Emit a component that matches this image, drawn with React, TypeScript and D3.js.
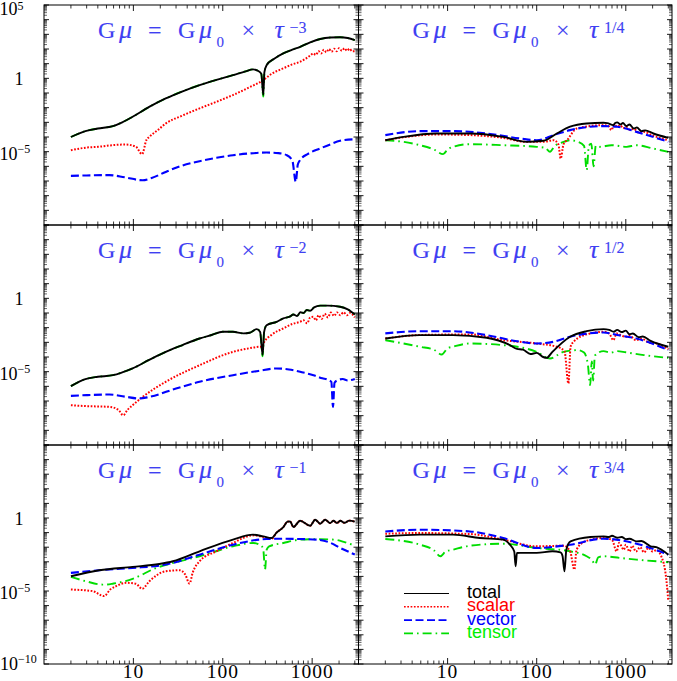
import React from 'react';
import * as d3 from 'd3';

type Pt = [number, number]; // [tau, log10 of power]

// ---------- data (x value, log10 of y value) ----------
const tlTotal: Pt[] = [[2,-4.0],[2.9,-3.6],[4,-3.42],[5.9,-3.26],[7.5,-3.0],[9.8,-2.62],[15,-1.95],[23,-1.37],[35,-0.9],[55,-0.46],[85,-0.1],[130,0.22],[180,0.48],[218,0.61],[250,0.5],[270,0.3],[284,-1.14],[292,0.4],[309,0.9],[380,1.35],[475,1.7],[600,1.95],[735,2.15],[950,2.45],[1230,2.68],[1600,2.78],[2050,2.8],[2500,2.75],[3000,2.6]];
const tlScalar: Pt[] = [[2,-4.9],[3,-4.72],[4,-4.67],[6,-4.55],[8.2,-4.51],[10.7,-4.67],[12.5,-5.17],[14,-4.2],[15.1,-3.99],[19,-3.5],[23,-3.08],[35,-2.55],[55,-2.05],[85,-1.6],[130,-1.14],[200,-0.6],[284,-0.12],[350,0.3],[475,0.68],[600,0.95],[733,1.13],[850,1.35],[950,1.55],[1030,1.7],[1100,1.6],[1180,1.85],[1260,1.7],[1350,1.95],[1440,1.78],[1540,2.0],[1650,1.82],[1760,2.02],[1880,1.85],[2000,2.05],[2150,1.88],[2300,2.05],[2450,1.88],[2620,2.02],[2800,1.85],[3000,1.85]];
const tlVector: Pt[] = [[2,-6.65],[3,-6.62],[5.4,-6.6],[8,-6.75],[12.7,-6.95],[16,-6.8],[23,-6.38],[35,-5.95],[55,-5.65],[85,-5.42],[130,-5.24],[200,-5.12],[309,-5.06],[420,-5.1],[520,-5.24],[600,-5.6],[656,-7.06],[690,-5.9],[733,-5.58],[900,-5.15],[1230,-4.78],[1600,-4.5],[2050,-4.26],[3000,-4.15]];
const tlTensor: Pt[] = [[2,-4.0],[2.9,-3.6],[4,-3.42],[5.9,-3.26],[7.5,-3.0],[9.8,-2.62],[15,-1.95],[23,-1.37],[35,-0.9],[55,-0.46],[85,-0.1],[130,0.22],[180,0.48],[218,0.61],[250,0.5],[270,0.3],[284,-1.25],[292,0.4],[309,0.9],[380,1.35],[475,1.7],[600,1.95],[735,2.15],[950,2.45],[1230,2.68],[1600,2.78],[2050,2.8],[2500,2.75],[3000,2.6]];

const mlTotal: Pt[] = [[2,-5.99],[2.9,-5.51],[4,-5.35],[5.9,-5.24],[7.5,-5.05],[9.8,-4.78],[15,-4.2],[23,-3.65],[35,-3.2],[55,-2.74],[75,-2.5],[100,-2.28],[130,-2.28],[170,-2.39],[200,-2.35],[240,-2.1],[262,-2.3],[279,-3.87],[290,-2.3],[309,-1.83],[400,-1.6],[476,-1.37],[560,-1.25],[617,-1.1],[680,-1.2],[740,-0.95],[800,-1.0],[871,-0.8],[950,-0.85],[1050,-0.62],[1230,-0.5],[1500,-0.5],[2050,-0.57],[2500,-0.75],[3000,-1.1]];
const mlScalar: Pt[] = [[2,-7.29],[3,-7.35],[5.4,-7.4],[6.8,-7.6],[7.7,-7.97],[8.6,-7.6],[9.8,-7.29],[12.7,-6.72],[23,-5.69],[55,-4.56],[130,-3.65],[200,-3.4],[262,-3.3],[279,-3.3],[285,-3.08],[350,-2.5],[476,-2.05],[600,-1.75],[733,-1.6],[800,-1.5],[880,-1.7],[950,-1.3],[1030,-1.26],[1100,-1.5],[1180,-1.15],[1280,-1.4],[1380,-1.05],[1500,-1.3],[1620,-0.96],[1760,-1.2],[1900,-0.96],[2060,-1.15],[2250,-0.95],[2450,-1.15],[2650,-1.0],[3000,-1.3]];
const mlVector: Pt[] = [[2,-6.65],[3,-6.6],[5.4,-6.56],[8,-6.7],[11.7,-6.83],[15.1,-6.72],[30,-6.15],[55,-5.69],[130,-5.24],[250,-4.95],[400,-4.78],[550,-4.85],[733,-5.01],[1036,-5.24],[1300,-5.45],[1500,-5.55],[1640,-5.7],[1710,-7.4],[1780,-5.75],[1900,-5.6],[2200,-5.5],[2500,-5.6],[3000,-5.5]];
const mlTensor: Pt[] = [[2,-5.99],[2.9,-5.51],[4,-5.35],[5.9,-5.24],[7.5,-5.05],[9.8,-4.78],[15,-4.2],[23,-3.65],[35,-3.2],[55,-2.74],[75,-2.5],[100,-2.28],[130,-2.28],[170,-2.39],[200,-2.35],[240,-2.1],[262,-2.3],[279,-3.95],[290,-2.3],[309,-1.83],[400,-1.6],[476,-1.37],[560,-1.25],[617,-1.1],[680,-1.2],[740,-0.95],[800,-1.0],[871,-0.8],[950,-0.85],[1050,-0.62],[1230,-0.5],[1500,-0.5],[2050,-0.57],[2500,-0.75],[3000,-1.1]];

const blTotal: Pt[] = [[2,-3.99],[4.15,-3.58],[9.8,-3.35],[19.5,-3.15],[27.7,-2.96],[55,-2.28],[130,-1.48],[218,-1.14],[284,-1.26],[352,-1.37],[400,-1.0],[476,-0.62],[530,-0.25],[566,-0.23],[617,-0.62],[733,-0.19],[950,-0.53],[1081,-0.12],[1230,-0.39],[1400,-0.12],[1586,-0.35],[1738,-0.19],[1893,-0.35],[2063,-0.19],[2300,-0.33],[2600,-0.18],[3000,-0.25]];
const blScalar: Pt[] = [[2,-4.9],[3.5,-5.01],[4.7,-5.35],[5.5,-4.9],[6.4,-4.67],[8.3,-4.44],[10.7,-4.51],[12.5,-4.85],[15.1,-4.33],[23,-3.65],[33,-3.58],[38,-3.87],[42.5,-4.49],[46,-3.76],[55,-2.96],[85,-2.28],[130,-1.71],[218,-1.19],[284,-1.3],[352,-1.42],[400,-1.0],[476,-0.62],[530,-0.25],[566,-0.23],[617,-0.62],[733,-0.19],[950,-0.53],[1081,-0.12],[1230,-0.39],[1400,-0.12],[1586,-0.35],[1738,-0.19],[1893,-0.35],[2063,-0.19],[2300,-0.33],[2600,-0.18],[3000,-0.25]];
const blVector: Pt[] = [[2,-3.76],[4.15,-3.58],[9.8,-3.42],[23,-3.19],[55,-2.51],[130,-1.83],[309,-1.44],[450,-1.42],[733,-1.44],[1120,-1.48],[1600,-1.7],[2063,-2.05],[3000,-2.5]];
const blTensor: Pt[] = [[2,-4.03],[2.94,-4.33],[4.5,-4.56],[5,-4.56],[6,-4.49],[9.8,-4.17],[18,-3.42],[27.7,-3.08],[55,-2.62],[130,-1.94],[218,-1.71],[270,-1.9],[284,-2.17],[297,-3.53],[310,-2.17],[330,-1.95],[476,-1.71],[733,-1.48],[1000,-1.45],[1738,-1.48],[2300,-1.65],[3000,-1.9]];

const trTotal: Pt[] = [[2,-4.22],[3.2,-3.99],[7.5,-3.76],[17.8,-3.76],[42,-3.99],[77,-4.33],[119,-4.26],[168,-3.76],[237,-3.3],[363,-3.08],[562,-3.03],[620,-3.05],[725,-3.19],[760,-3.05],[800,-3.0],[870,-3.15],[930,-3.05],[1010,-3.25],[1100,-3.15],[1230,-3.42],[1330,-3.35],[1500,-3.6],[1650,-3.55],[2040,-3.76],[3000,-4.06]];
const trScalar: Pt[] = [[2,-4.22],[7.5,-3.83],[17.8,-3.87],[42,-4.06],[77,-4.33],[119,-4.33],[155,-4.22],[175,-4.5],[186,-5.47],[200,-4.5],[219,-4.22],[282,-3.42],[562,-3.19],[640,-3.25],[690,-3.53],[740,-3.15],[800,-3.3],[870,-3.2],[930,-3.4],[1010,-3.3],[1100,-3.5],[1230,-3.45],[1400,-3.7],[1600,-3.65],[2000,-3.9],[3000,-4.22]];
const trVector: Pt[] = [[2,-3.87],[4.9,-3.6],[11.5,-3.6],[27.5,-3.76],[65,-4.1],[100,-4.22],[155,-3.87],[237,-3.53],[562,-3.26],[800,-3.3],[1318,-3.65],[3000,-4.33]];
const trTensor: Pt[] = [[2,-4.22],[3.2,-4.33],[4.9,-4.56],[7,-4.85],[8.9,-5.17],[10,-4.85],[11.5,-4.67],[17.8,-4.49],[42,-4.56],[100,-4.67],[125,-4.75],[141,-5.01],[160,-4.6],[182,-4.44],[237,-4.22],[290,-4.33],[340,-4.6],[364,-6.26],[385,-4.6],[410,-4.45],[435,-6.0],[460,-4.6],[513,-4.67],[690,-4.56],[1023,-4.67],[1318,-4.56],[2000,-4.78],[3000,-5.01]];

const mrTotal: Pt[] = [[2,-2.74],[4.9,-2.51],[11.5,-2.51],[27.5,-2.69],[50,-3.19],[60,-3.45],[70,-3.5],[85,-3.8],[100,-3.72],[118,-4.0],[129,-4.06],[150,-3.65],[237,-2.62],[363,-2.24],[562,-2.1],[650,-2.15],[733,-2.28],[800,-2.15],[900,-2.3],[1000,-2.2],[1100,-2.45],[1200,-2.4],[1400,-2.65],[1550,-2.6],[1900,-2.9],[3000,-3.3]];
const mrScalar: Pt[] = [[2,-2.74],[4.9,-2.5],[17.8,-2.46],[42,-2.85],[100,-3.08],[168,-3.3],[205,-3.6],[227,-5.8],[240,-3.3],[260,-2.96],[363,-2.46],[562,-2.28],[650,-2.4],[725,-2.85],[790,-2.39],[870,-2.5],[1000,-2.62],[1100,-2.55],[1300,-2.85],[1500,-2.75],[1800,-3.0],[2300,-3.1],[3000,-3.46]];
const mrVector: Pt[] = [[2,-2.39],[4.9,-2.24],[11.5,-2.24],[27.5,-2.51],[65,-2.96],[100,-3.08],[155,-2.96],[237,-2.62],[562,-2.33],[800,-2.5],[1318,-2.74],[3000,-3.53]];
const mrTensor: Pt[] = [[2,-2.85],[4.9,-3.3],[7,-3.5],[8.6,-3.83],[10,-3.4],[11.5,-3.3],[17.8,-3.08],[42,-3.19],[100,-3.65],[141,-4.1],[200,-3.65],[290,-3.53],[340,-3.7],[375,-4.5],[398,-5.92],[415,-4.3],[430,-5.6],[450,-3.9],[562,-3.6],[680,-3.7],[800,-3.6],[1000,-3.68],[1600,-3.87],[3000,-4.06]];

const brTotal: Pt[] = [[2,-1.26],[4.9,-1.14],[11.5,-1.14],[23,-1.37],[42,-1.48],[50,-1.83],[56,-2.3],[58,-3.3],[60,-2.4],[65,-2.39],[100,-2.39],[150,-2.28],[185,-2.35],[195,-2.6],[205,-3.65],[215,-2.17],[240,-1.6],[400,-1.3],[562,-1.26],[650,-1.3],[700,-1.22],[800,-1.35],[900,-1.3],[1000,-1.45],[1100,-1.42],[1318,-1.6],[1500,-1.58],[1900,-1.94],[2200,-2.0],[3000,-2.51]];
const brScalar: Pt[] = [[2,-1.08],[4.9,-1.03],[17.8,-1.1],[42,-1.48],[100,-1.94],[200,-1.9],[237,-2.28],[265,-3.53],[280,-2.17],[350,-1.6],[562,-1.37],[700,-1.5],[790,-2.28],[840,-1.71],[950,-2.17],[1000,-1.83],[1100,-2.3],[1180,-1.9],[1300,-2.3],[1450,-2.0],[1600,-2.35],[1800,-2.05],[2000,-2.3],[2200,-2.2],[2500,-2.62],[2850,-4.22],[3000,-5.69]];
const brVector: Pt[] = [[2,-0.92],[4.9,-0.8],[17.8,-0.92],[42,-1.37],[100,-2.05],[237,-1.83],[562,-1.42],[1318,-1.76],[3000,-2.51]];
const brTensor: Pt[] = [[2,-1.44],[4.9,-1.83],[7,-2.2],[8.3,-2.62],[9.5,-2.3],[11.5,-2.17],[17.8,-1.9],[42,-1.76],[100,-2.05],[237,-2.28],[363,-2.62],[420,-2.9],[452,-3.19],[490,-2.7],[562,-2.62],[870,-2.74],[1318,-2.85],[3000,-3.03]];

const titleExponents = ['\u22123', '1/4', '\u22122', '1/2', '\u22121', '3/4'];
const seriesNames = ['total', 'scalar', 'vector', 'tensor'];
const xTickLabels = [10, 100, 1000];

// ---------- layout & styles ----------
const W = 677, H = 681;
const COLS = [44, 358.5, 672];
const ROWS = [5, 225, 445, 664];
const COLORS: Record<string, string> = { total: '#000000', scalar: '#ff0000', vector: '#0000ff', tensor: '#00dd00' };
const DASH: Record<string, string | undefined> = { total: undefined, scalar: '1.7 1.6', vector: '8 3.5', tensor: '9 4 1.6 4' };
const WIDTH: Record<string, number> = { total: 1.9, scalar: 2, vector: 2.1, tensor: 1.9 };
const TITLE_COLOR = '#3f3ff2';
const SERIF = '"Liberation Serif", "Times New Roman", serif';
const SANS = '"Liberation Sans", Arial, sans-serif';

const panels = [
  { col: 0, row: 0, series: { total: tlTotal, scalar: tlScalar, vector: tlVector, tensor: tlTensor } },
  { col: 1, row: 0, series: { total: trTotal, scalar: trScalar, vector: trVector, tensor: trTensor } },
  { col: 0, row: 1, series: { total: mlTotal, scalar: mlScalar, vector: mlVector, tensor: mlTensor } },
  { col: 1, row: 1, series: { total: mrTotal, scalar: mrScalar, vector: mrVector, tensor: mrTensor } },
  { col: 0, row: 2, series: { total: blTotal, scalar: blScalar, vector: blVector, tensor: blTensor } },
  { col: 1, row: 2, series: { total: brTotal, scalar: brScalar, vector: brVector, tensor: brTensor } },
];

const drawOrder = ['tensor', 'scalar', 'vector', 'total'];

function Panel({ p, idx }: { p: typeof panels[number]; idx: number }) {
  const x0 = COLS[p.col], x1 = COLS[p.col + 1];
  const y0 = ROWS[p.row], y1 = ROWS[p.row + 1];
  const xs = d3.scaleLog().domain([1, 3300]).range([x0, x1]);
  const ys = d3.scaleLog().domain([1e-10, 1e5]).range([y1, y0]);
  const line = d3.line<Pt>()
    .x((d) => xs(d[0]))
    .y((d) => ys(Math.pow(10, d[1])))
    .curve(d3.curveMonotoneX);

  const xMajor = [10, 100, 1000];
  const xMinor: number[] = [];
  for (const dec of [1, 10, 100, 1000]) for (let k = 2; k <= 9; k++) { const v = k * dec; if (v < 3300) xMinor.push(v); }
  const yMajor: number[] = [];
  const yMinor: number[] = [];
  for (let e = -10; e <= 5; e++) {
    yMajor.push(Math.pow(10, e));
    if (e < 5) for (let k = 2; k <= 9; k++) yMinor.push(k * Math.pow(10, e));
  }
  const clipId = `clip${idx}`;
  const exp = titleExponents[idx];
  const tx = x0 + 54;
  const tb = y0 + 32.7;
  return (
    <g>
      <defs>
        <clipPath id={clipId}><rect x={x0} y={y0} width={x1 - x0} height={y1 - y0} /></clipPath>
      </defs>
      <g clipPath={`url(#${clipId})`}>
        {drawOrder.map((name) => (
          <path key={name} d={line((p.series as any)[name]) || ''} fill="none" stroke={COLORS[name]}
            strokeWidth={WIDTH[name]} strokeDasharray={DASH[name]} strokeLinejoin="round" />
        ))}
      </g>
      <rect x={x0} y={y0} width={x1 - x0} height={y1 - y0} fill="none" stroke="#000" strokeWidth={1} />
      {xMajor.map((v) => (
        <g key={'xM' + v}>
          <line x1={xs(v)} x2={xs(v)} y1={y1} y2={y1 - 6} stroke="#000" strokeWidth={0.9} />
          <line x1={xs(v)} x2={xs(v)} y1={y0} y2={y0 + 6} stroke="#000" strokeWidth={0.9} />
        </g>
      ))}
      {xMinor.map((v) => (
        <g key={'xm' + v}>
          <line x1={xs(v)} x2={xs(v)} y1={y1} y2={y1 - 3.5} stroke="#000" strokeWidth={0.8} />
          <line x1={xs(v)} x2={xs(v)} y1={y0} y2={y0 + 3.5} stroke="#000" strokeWidth={0.8} />
        </g>
      ))}
      {yMajor.map((v) => (
        <g key={'yM' + v}>
          <line x1={x0} x2={x0 + 5} y1={ys(v)} y2={ys(v)} stroke="#000" strokeWidth={0.9} />
          <line x1={x1} x2={x1 - 5} y1={ys(v)} y2={ys(v)} stroke="#000" strokeWidth={0.9} />
        </g>
      ))}
      {yMinor.map((v) => (
        <g key={'ym' + v}>
          <line x1={x0} x2={x0 + 3} y1={ys(v)} y2={ys(v)} stroke="#000" strokeWidth={0.6} />
          <line x1={x1} x2={x1 - 3} y1={ys(v)} y2={ys(v)} stroke="#000" strokeWidth={0.6} />
        </g>
      ))}
      {/* title */}
      <g fill={TITLE_COLOR} stroke={TITLE_COLOR} strokeWidth={0.12} fontFamily={SERIF} fontSize={24}>
        <text x={tx} y={tb}>G</text>
        <text x={tx + 21} y={tb} fontStyle="italic" fontSize={26}>μ</text>
        <text x={tx + 50} y={tb}>=</text>
        <text x={tx + 80} y={tb}>G</text>
        <text x={tx + 101} y={tb} fontStyle="italic" fontSize={26}>μ</text>
        <text x={tx + 118.5} y={tb + 9} fontSize={15}>0</text>
        <text x={tx + 143.5} y={tb}>×</text>
        <text x={tx + 176.5} y={tb} fontStyle="italic" fontSize={26}>τ</text>
        <text x={tx + 191.5} y={tb - 4.5} fontSize={16}>{exp}</text>
      </g>
      {p.col === 0 && (
        <g fontFamily={SERIF} fontSize={18} fill="#000">
          {p.row === 0 && (
            <g>
              <text x={17.5} y={y0 + 10} textAnchor="end">10</text>
              <text x={17.5} y={y0 + 4.5} fontSize={12}>5</text>
            </g>
          )}
          <text x={19} y={ys(1) + 7} textAnchor="middle">1</text>
          <text x={17.5} y={ys(1e-5) + 8} textAnchor="end">10</text>
          <text x={17.5} y={ys(1e-5) + 1} fontSize={12}>{'\u22125'}</text>
          {p.row === 2 && (
            <g>
              <text x={18} y={y1 + 6} textAnchor="end">10</text>
              <text x={18} y={y1 - 1} fontSize={12}>{'\u221210'}</text>
            </g>
          )}
        </g>
      )}
      {p.row === 2 && (
        <g fontFamily={SERIF} fontSize={19.5} fill="#000" textAnchor="middle" letterSpacing={1}>
          {xTickLabels.map((v) => (
            <text key={v} x={xs(v)} y={678}>{v}</text>
          ))}
        </g>
      )}
      {p.col === 1 && p.row === 2 && (
        <g>
          {seriesNames.map((name, i) => {
            const by = 598 + i * 13.3;
            return (
              <g key={name}>
                <line x1={404} x2={449} y1={by - 4.5} y2={by - 4.5} stroke={COLORS[name]} strokeWidth={name === 'total' ? 1 : 1.6}
                  strokeDasharray={DASH[name]} />
                <text x={467} y={by} fontFamily={SANS} fontSize={18} fill={name === 'tensor' ? '#00ee00' : COLORS[name]}>{name}</text>
              </g>
            );
          })}
        </g>
      )}
    </g>
  );
}

export default function App() {
  return (
    <svg width={W} height={H} viewBox={`0 0 ${W} ${H}`}
      style={{ position: 'absolute', left: 0, top: 0, background: '#fff' }}>
      <rect x={0} y={0} width={W} height={H} fill="#fff" />
      {panels.map((p, i) => <Panel key={i} p={p} idx={i} />)}
    </svg>
  );
}
